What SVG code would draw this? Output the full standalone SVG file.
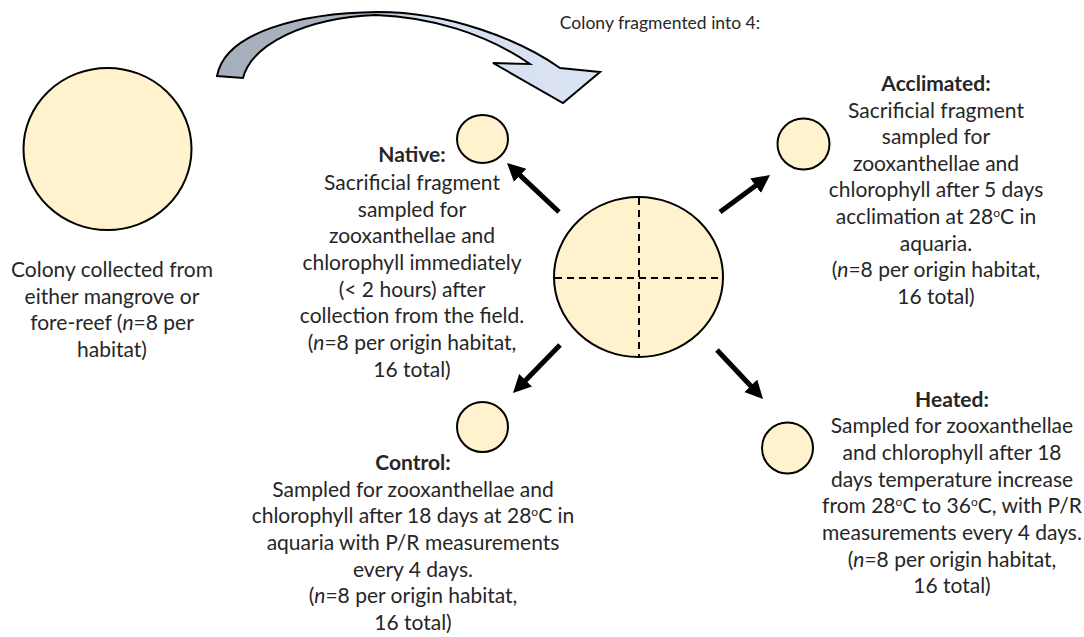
<svg xmlns="http://www.w3.org/2000/svg" width="1084" height="637" viewBox="0 0 1084 637">
<style>
.c{fill:#fff2cc;stroke:#000;stroke-width:2}
.t{font-family:Lato,"Open Sans","Liberation Sans",sans-serif;font-size:21px;fill:#262626;text-anchor:middle}
.b{font-weight:bold}
.i{font-style:italic}
.sup{font-size:12px}
.arr{stroke:#000;stroke-width:5;fill:none;marker-end:url(#ah)}
</style>
<defs>
<marker id="ah" markerUnits="userSpaceOnUse" markerWidth="20" markerHeight="20" refX="8" refY="9" orient="auto">
<path d="M0,0 L18,9 L0,18 z" fill="#000"/>
</marker>
<linearGradient id="cg" gradientUnits="userSpaceOnUse" x1="217" y1="0" x2="600" y2="0">
<stop offset="0" stop-color="#a7aebb"/>
<stop offset="0.42" stop-color="#aeb5c2"/>
<stop offset="0.52" stop-color="#d6dff0"/>
<stop offset="1" stop-color="#dae3f3"/>
</linearGradient>
</defs>

<g id="curved-arrow">
<path d="M217,76 C225,32 300,13 378,12 C450,12 520,40 560,68 L600,72 L563,103 L493,63 L530,64 C485,33 430,17 376,15 C305,18 252,44 243,78 Z" fill="url(#cg)" stroke="#000" stroke-width="2" stroke-linejoin="miter"/>
</g>
<g id="title">
<text class="t" x="660" y="29" style="font-size:17.5px">Colony fragmented into 4:</text>
</g>

<g id="colony">
<ellipse class="c" cx="107.5" cy="149" rx="84" ry="81"/>
<text class="t" x="112"><tspan x="112" y="277">Colony collected from</tspan><tspan x="112" y="303.5">either mangrove or</tspan><tspan x="112" y="330">fore-reef (<tspan class="i">n</tspan>=8 per</tspan><tspan x="112" y="356.5">habitat)</tspan></text>
</g>

<g id="fragmented-colony">
<ellipse class="c" cx="638.5" cy="277" rx="84.5" ry="80"/>
<line x1="639" y1="198" x2="639" y2="357" stroke="#000" stroke-width="2" stroke-dasharray="7,5"/>
<line x1="555" y1="278" x2="722" y2="278" stroke="#000" stroke-width="2" stroke-dasharray="7,5"/>
</g>

<g id="native">
<ellipse class="c" cx="482.5" cy="139" rx="25.5" ry="24"/>
<text class="t"><tspan x="412" y="162" class="b">Native:</tspan><tspan x="412" y="189.5">Sacrificial fragment</tspan><tspan x="412" y="216.5">sampled for</tspan><tspan x="412" y="243">zooxanthellae and</tspan><tspan x="412" y="270">chlorophyll immediately</tspan><tspan x="412" y="296.5">(&lt; 2 hours) after</tspan><tspan x="412" y="323">collection from the field.</tspan><tspan x="412" y="350">(<tspan class="i">n</tspan>=8 per origin habitat,</tspan><tspan x="412" y="376.5">16 total)</tspan></text>
</g>

<g id="acclimated">
<ellipse class="c" cx="803.5" cy="144" rx="26" ry="25.5"/>
<text class="t"><tspan x="936" y="91" class="b">Acclimated:</tspan><tspan x="936" y="117.5">Sacrificial fragment</tspan><tspan x="936" y="144">sampled for</tspan><tspan x="936" y="170.5">zooxanthellae and</tspan><tspan x="936" y="197">chlorophyll after 5 days</tspan><tspan x="936" y="223.5">acclimation at 28<tspan class="sup" dy="-7">o</tspan><tspan dy="7">C in</tspan></tspan><tspan x="936" y="250.5">aquaria.</tspan><tspan x="936" y="277">(<tspan class="i">n</tspan>=8 per origin habitat,</tspan><tspan x="936" y="303.5">16 total)</tspan></text>
</g>

<g id="control">
<ellipse class="c" cx="482.5" cy="427" rx="25.5" ry="25"/>
<text class="t"><tspan x="413" y="470" class="b">Control:</tspan><tspan x="413" y="496.5">Sampled for zooxanthellae and</tspan><tspan x="413" y="523">chlorophyll after 18 days at 28<tspan class="sup" dy="-7">o</tspan><tspan dy="7">C in</tspan></tspan><tspan x="413" y="549.5">aquaria with P/R measurements</tspan><tspan x="413" y="576.5">every 4 days.</tspan><tspan x="413" y="603">(<tspan class="i">n</tspan>=8 per origin habitat,</tspan><tspan x="413" y="629.5">16 total)</tspan></text>
</g>

<g id="heated">
<ellipse class="c" cx="787.5" cy="448" rx="25.5" ry="25.5"/>
<text class="t"><tspan x="952" y="406.5" class="b">Heated:</tspan><tspan x="952" y="433">Sampled for zooxanthellae</tspan><tspan x="952" y="459.5">and chlorophyll after 18</tspan><tspan x="952" y="486.5">days temperature increase</tspan><tspan x="952" y="513">from 28<tspan class="sup" dy="-7">o</tspan><tspan dy="7">C to 36</tspan><tspan class="sup" dy="-7">o</tspan><tspan dy="7">C, with P/R</tspan></tspan><tspan x="952" y="539.5">measurements every 4 days.</tspan><tspan x="952" y="566.5">(<tspan class="i">n</tspan>=8 per origin habitat,</tspan><tspan x="952" y="593">16 total)</tspan></text>
</g>

<g id="connectors">
<line class="arr" x1="559" y1="212" x2="514.3" y2="169.9"/>
<line class="arr" x1="720" y1="212" x2="762" y2="181"/>
<line class="arr" x1="560" y1="345" x2="520" y2="385.9"/>
<line class="arr" x1="717" y1="350" x2="756.2" y2="391.7"/>
</g>
</svg>
